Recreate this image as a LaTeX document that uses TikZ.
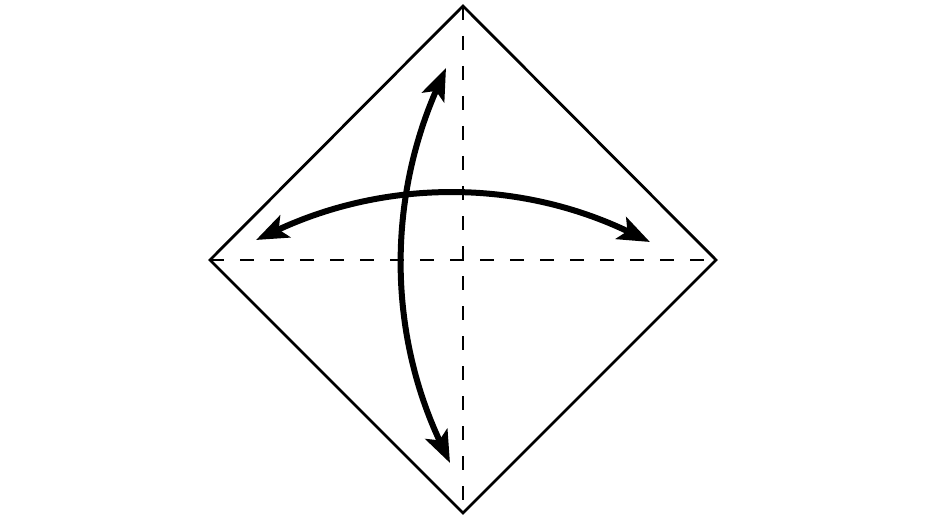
\documentclass[tikz,border=0pt]{standalone}
\usepackage{tikz}
\usetikzlibrary{arrows.meta}

\begin{document}
\begin{tikzpicture}[
                x=0.5pt, y=-0.5pt,
                >={Stealth[length=16pt, width=12pt, inset=3.5pt]},
                edgeline/.style={line width=1.4pt, draw=black},
                creaseline/.style={line width=1.3pt, draw=black, dash pattern=on 7pt off 8pt},
                foldarrow/.style={<->, line width=3pt, draw=black}
                ]
                \useasboundingbox (0,0) rectangle (940,529);

                % Corners of the square paper
                \coordinate (top) at (463,6);
                \coordinate (bottom) at (463,513);
                \coordinate (left) at (210,260);
                \coordinate (right) at (716,260);

                % Arrow end points
                \coordinate (harrowL) at (256,240);
                \coordinate (harrowR) at (650,242);
                \coordinate (varrowT) at (446,68);
                \coordinate (varrowB) at (450,463);

                \draw[edgeline, line join=miter] (top) -- (right) -- (bottom) -- (left) -- cycle;

                \draw[creaseline] (top) -- (bottom);
                \draw[creaseline] (left) -- (right);

                \draw[foldarrow] (harrowL) .. controls (387,179) and (519,179) .. (harrowR);
                \draw[foldarrow] (varrowT) .. controls (388,200) and (388,331) .. (varrowB);
            \end{tikzpicture}
\end{document}
